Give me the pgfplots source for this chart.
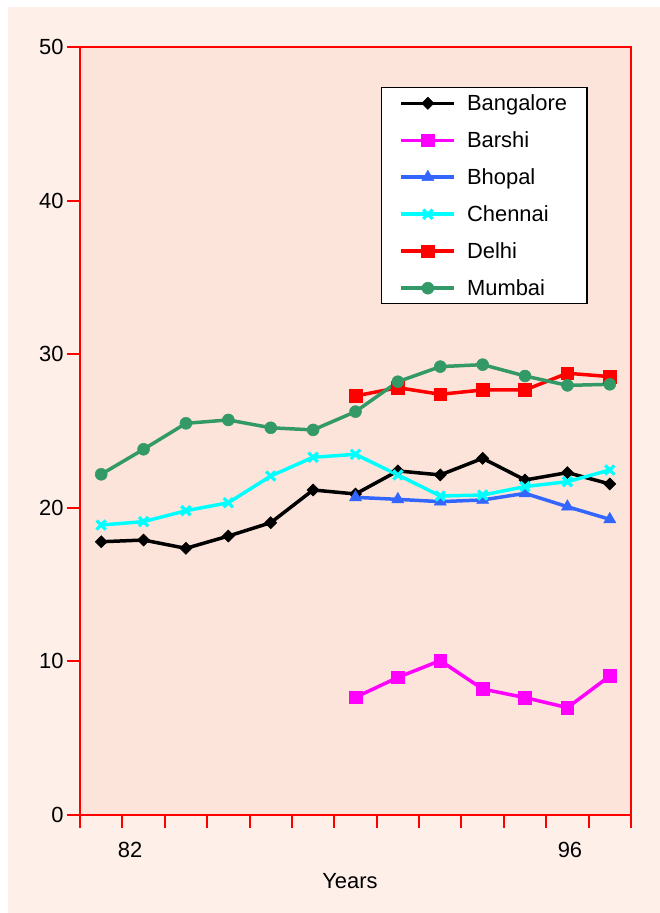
\documentclass[border=0pt]{standalone}
\usepackage{pgfplots}
\pgfplotsset{compat=1.18}
\usepackage{fontspec}
\setmainfont{Liberation Sans}
\definecolor{outerbg}{HTML}{FEEFE8}
\definecolor{innerbg}{HTML}{FDE4DA}
\definecolor{mgreen}{HTML}{339966}
\definecolor{bblue}{HTML}{3366FF}
\definecolor{mmag}{HTML}{FF00FF}
\definecolor{mcyan}{HTML}{00FFFF}
\definecolor{mred}{HTML}{FF0000}
\begin{document}
\begin{tikzpicture}
\fill[white] (0bp,0bp) rectangle (660bp,913bp);
\fill[outerbg] (8bp,0bp) rectangle (660bp,906bp);
\begin{axis}[
  at={(80bp,98bp)}, anchor=south west,
  width=551bp, height=768bp, scale only axis,
  xmin=0.5, xmax=13.5, ymin=0, ymax=50,
  axis background/.style={fill=innerbg},
  axis line style={mred, line width=2bp},
  tick align=outside, xtick pos=bottom, ytick pos=left,
  major tick length=13bp, minor tick length=13bp,
  tick style={mred, line width=2bp},
  every major x tick/.append style={draw=none},
  ytick={0,10,20,30,40,50},
  xtick={1.68,12.06}, xticklabels={82,96},
  minor xtick={0.5,1.5,2.5,3.5,4.5,5.5,6.5,7.5,8.5,9.5,10.5,11.5,12.5,13.5},
  tick label style={font=\fontsize{22}{26}\selectfont},
  xticklabel style={yshift=-11bp},
  /pgf/number format/assume math mode=true,
  xlabel={Years},
  xlabel style={font=\fontsize{22}{26}\selectfont, at={(axis description cs:0.49,0)}, anchor=north, yshift=-55bp},
  legend cell align=left,
  legend style={at={(0.5463,0.9479)}, anchor=north west, draw=black, line width=1.2bp, fill=white,
    font=\fontsize{22}{26}\selectfont, row sep=15.6bp, inner xsep=18bp, inner ysep=5bp,
    nodes={inner xsep=2bp, inner ysep=2bp},
    /tikz/every odd column/.append style={column sep=9bp}},
  every axis plot/.append style={line width=3.5bp,
    legend image code/.code={\draw[mark repeat=2,mark phase=2,#1] plot coordinates {(0bp,0bp) (26.5bp,0bp) (53bp,0bp)};}},
]
\addplot[black, line width=3.5bp, mark=square*, mark size=4.3bp, mark options={rotate=45, line width=0.5bp}] coordinates {
(1,17.79) (2,17.90) (3,17.36) (4,18.16) (5,19.03) (6,21.16) (7,20.90) (8,22.40) (9,22.14) (10,23.22) (11,21.81) (12,22.29) (13,21.55)};
\addlegendentry{Bangalore}
\addplot[mmag, line width=3.5bp, mark=square*, mark size=6.3bp, mark options={line width=0.5bp}] coordinates {
(7,7.66) (8,8.96) (9,10.05) (10,8.20) (11,7.64) (12,6.99) (13,9.05)};
\addlegendentry{Barshi}
\addplot[bblue, line width=3.5bp, mark=triangle*, mark size=7bp, mark options={line width=0.5bp}] coordinates {
(7,20.68) (8,20.55) (9,20.40) (10,20.51) (11,20.94) (12,20.07) (13,19.25)};
\addlegendentry{Bhopal}
\addplot[mcyan, line width=3.5bp, mark=x, mark size=6.5bp, mark options={line width=3.2bp}] coordinates {
(1,18.88) (2,19.10) (3,19.81) (4,20.33) (5,22.07) (6,23.29) (7,23.48) (8,22.14) (9,20.77) (10,20.83) (11,21.38) (12,21.70) (13,22.46)};
\addlegendentry{Chennai}
\addplot[mred, line width=3.5bp, mark=square*, mark size=6.3bp, mark options={line width=0.5bp}] coordinates {
(7,27.28) (8,27.82) (9,27.39) (10,27.67) (11,27.67) (12,28.76) (13,28.54)};
\addlegendentry{Delhi}
\addplot[mgreen, line width=3.5bp, mark=*, mark size=6bp, mark options={line width=0.5bp}] coordinates {
(1,22.18) (2,23.81) (3,25.50) (4,25.72) (5,25.21) (6,25.07) (7,26.26) (8,28.21) (9,29.19) (10,29.32) (11,28.58) (12,27.97) (13,28.04)};
\addlegendentry{Mumbai}
\end{axis}
\end{tikzpicture}
\end{document}
